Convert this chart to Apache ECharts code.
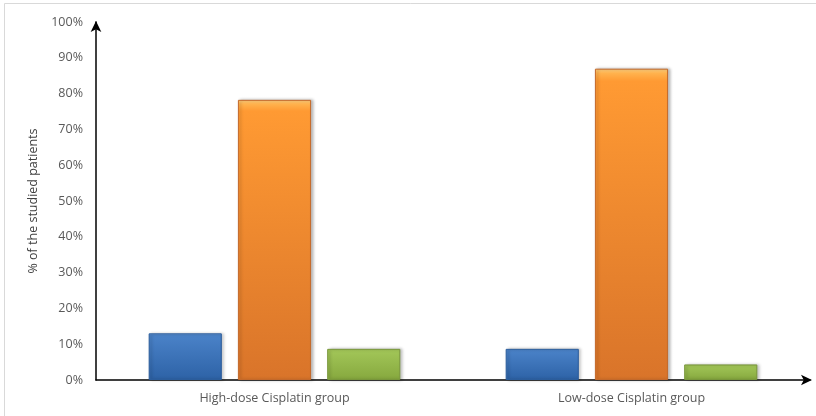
<!DOCTYPE html>
<html>
<head>
<meta charset="utf-8">
<script src="https://cdn.jsdelivr.net/npm/echarts@6/dist/echarts.min.js"></script>
<style>
  html, body { margin: 0; padding: 0; background: #ffffff; }
  #chart { width: 816px; height: 416px; }
</style>
</head>
<body>
<div id="chart"></div>
<script>
// Patient groups on the category axis
const categories = ['High-dose Cisplatin group', 'Low-dose Cisplatin group'];
// Percent of patients per outcome in each group
const outcomeA = [13.04, 8.70];
const outcomeB = [78.26, 86.96];
const outcomeC = [8.70, 4.35];
// Value axis ticks
const yTicks = [0, 10, 20, 30, 40, 50, 60, 70, 80, 90, 100];

const FONT = 'Open Sans';
const LABEL_COLOR = '#595959';

function bevel(top, light, mid, bottom, edge) {
  return {
    color: {
      type: 'linear', x: 0, y: 0, x2: 0, y2: 1,
      colorStops: [
        { offset: 0, color: top },
        { offset: 0.015, color: light },
        { offset: 0.04, color: mid },
        { offset: 1, color: bottom }
      ]
    },
    borderColor: edge,
    borderWidth: 1,
    shadowColor: 'rgba(0,0,0,0.25)',
    shadowBlur: 3,
    shadowOffsetX: 2,
    shadowOffsetY: 0
  };
}

const chart = echarts.init(document.getElementById('chart'), null, { renderer: 'canvas' });

chart.setOption({
  animation: false,
  backgroundColor: '#ffffff',
  graphic: [{
    type: 'rect',
    shape: { x: 4.5, y: 3.5, width: 840, height: 440 },
    style: { fill: 'none', stroke: '#d9d9d9', lineWidth: 1 },
    silent: true,
    z: -1
  }],
  grid: { left: 96, right: 6, top: 22, bottom: 36, containLabel: false },
  xAxis: {
    type: 'category',
    data: categories,
    axisLine: {
      show: true,
      lineStyle: { color: '#000000', width: 1.5 },
      symbol: ['none', 'arrow'],
      symbolSize: [8, 11],
      symbolOffset: [0, 2]
    },
    axisTick: { show: false },
    axisLabel: { color: LABEL_COLOR, fontFamily: FONT, fontSize: 12.5, margin: 12 },
    splitLine: { show: false }
  },
  yAxis: {
    type: 'value',
    min: 0,
    max: 100,
    interval: 10,
    name: '% of the studied patients',
    nameLocation: 'middle',
    nameGap: 48,
    nameRotate: 90,
    nameTextStyle: { color: '#404040', fontFamily: FONT, fontSize: 12.5 },
    axisLine: {
      show: true,
      lineStyle: { color: '#000000', width: 1.5 },
      symbol: ['none', 'arrow'],
      symbolSize: [8, 11],
      symbolOffset: [0, 1]
    },
    axisTick: { show: false },
    axisLabel: {
      color: LABEL_COLOR, fontFamily: FONT, fontSize: 12.5, margin: 13,
      formatter: v => (yTicks.includes(v) ? v + '%' : '')
    },
    splitLine: { show: false }
  },
  series: [
    {
      name: 'Outcome A', type: 'bar', data: outcomeA,
      barGap: '22%', barCategoryGap: '29.5%',
      itemStyle: bevel('#8db4e2', '#6a9bd8', '#4a82c8', '#2d62a6', '#2b5d9c')
    },
    {
      name: 'Outcome B', type: 'bar', data: outcomeB,
      barGap: '22%', barCategoryGap: '29.5%',
      itemStyle: bevel('#ffd080', '#ffb24d', '#ff9a33', '#d9742a', '#c4692a')
    },
    {
      name: 'Outcome C', type: 'bar', data: outcomeC,
      barGap: '22%', barCategoryGap: '29.5%',
      itemStyle: bevel('#d4eb9a', '#b5d66a', '#a2c658', '#86a83e', '#78963a')
    }
  ]
});
</script>
</body>
</html>
